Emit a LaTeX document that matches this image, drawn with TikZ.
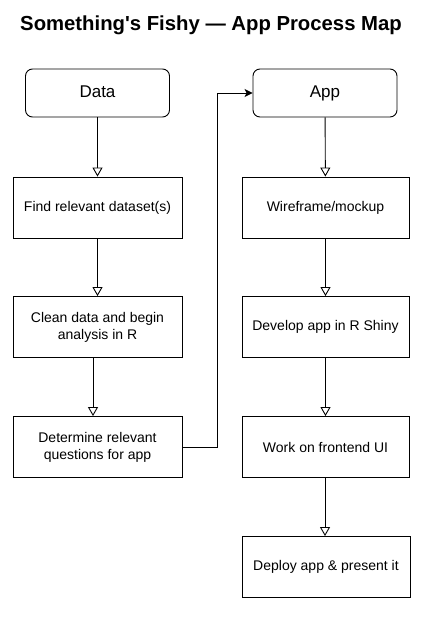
\documentclass[tikz,border=0pt]{standalone}
\usepackage{fontspec}
\setmainfont{Liberation Sans}[Ligatures=TeXOff]
\usetikzlibrary{arrows.meta}
\begin{document}
\begin{tikzpicture}[x=1pt,y=-1pt,
  every node/.style={inner sep=0pt},
  stepbox/.style={draw, line width=0.9pt, minimum width=169pt, minimum height=61pt, align=center, font=\fontsize{14}{17}\selectfont},
  headbox/.style={draw, line width=0.9pt, rounded corners=7pt, minimum width=144pt, minimum height=48pt, text height=12.5pt, text depth=3.5pt, font=\fontsize{17}{20}\selectfont},
  flow/.style={draw, line width=0.9pt, -{Triangle[open, width=10pt, length=9pt]}},
  link/.style={draw, line width=0.9pt, -{Stealth[width=8pt, length=8pt, inset=2pt]}}
]
\useasboundingbox (0,0) rectangle (425,617);
\node[font=\bfseries\fontsize{20.3}{24}\selectfont] (title) at (211,25) {Something's Fishy — App Process Map};
\node[headbox] (data) at (97.5,93) {Data};
\node[headbox] (app) at (325,93) {App};
\node[stepbox] (find) at (97.5,207.5) {Find relevant dataset(s)};
\node[stepbox] (clean) at (97.5,327) {Clean data and begin\\analysis in R};
\node[stepbox] (det) at (97.5,447) {Determine relevant\\questions for app};
\node[stepbox, minimum width=167pt] (wire) at (325.5,207.5) {Wireframe/mockup};
\node[stepbox, minimum width=167pt] (dev) at (325.5,327) {Develop app in R Shiny};
\node[stepbox, minimum width=167pt] (work) at (325.5,447) {Work on frontend UI};
\node[stepbox, minimum width=168pt] (deploy) at (326,567) {Deploy app \& present it};
\coordinate (c1) at (217,447);
\coordinate (c2) at (217,93);
\draw[flow] (data) -- (find);
\draw[flow] (find) -- (clean);
\draw[flow] ([xshift=-4.5pt]clean.south) -- ([xshift=-4.5pt]det.north);
\draw[flow] (app) -- (wire);
\draw[flow] (wire) -- (dev);
\draw[flow] (dev) -- (work);
\draw[flow] ([xshift=-0.5pt]work.south) -- ([xshift=-1pt]deploy.north);
\draw[link] (det.east) -- (c1) -- (c2) -- (app.west);
\end{tikzpicture}
\end{document}
